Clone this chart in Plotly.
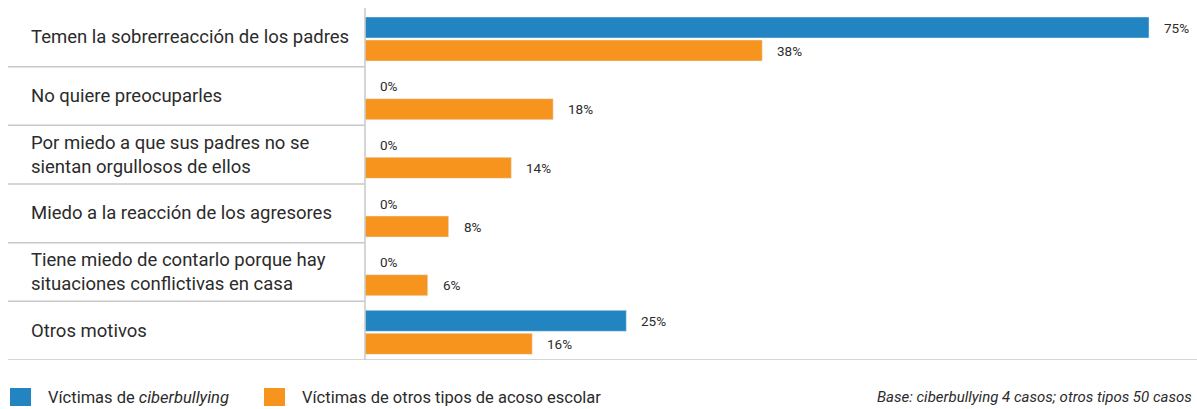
import plotly.graph_objects as go

categories = [
    "Temen la sobrerreacción de los padres",
    "No quiere preocuparles",
    "Por miedo a que sus padres no se<br>sientan orgullosos de ellos",
    "Miedo a la reacción de los agresores",
    "Tiene miedo de contarlo porque hay<br>situaciones conflictivas en casa",
    "Otros motivos",
]
ciber = [75, 0, 0, 0, 0, 25]
otros = [38, 18, 14, 8, 6, 16]
series_names = ["Víctimas de <i>ciberbullying</i>", "Víctimas de otros tipos de acoso escolar"]
base_note = "<i>Base: ciberbullying 4 casos; otros tipos 50 casos</i>"

BLUE = "#2384C2"
ORANGE = "#F6941E"
GRID = "#C8C8C8"
TEXT = "#2B2B2B"
FONT = "Roboto"

W, H = 1197, 409
L, R, T, B = 365, 0, 8, 49
pw = W - L - R
ph = H - T - B
px_per_unit = 784 / 75.0
xmax = pw / px_per_unit
band = ph / len(categories)

ys = list(range(len(categories)))

BAR_W = 21 / band
OFF_BLUE = -0.5 + 9 / band
OFF_ORANGE = -0.5 + 32 / band

fig = go.Figure()
fig.add_trace(go.Bar(y=ys, x=ciber, orientation="h", marker_color=BLUE, name="ciber",
                     width=BAR_W, offset=OFF_BLUE, showlegend=False, hoverinfo="skip"))
fig.add_trace(go.Bar(y=ys, x=otros, orientation="h", marker_color=ORANGE, name="otros",
                     width=BAR_W, offset=OFF_ORANGE, showlegend=False, hoverinfo="skip"))

annotations = []
shapes = []
for i, (a, b) in enumerate(zip(ciber, otros)):
    for val, off in ((a, OFF_BLUE + BAR_W / 2), (b, OFF_ORANGE + BAR_W / 2)):
        annotations.append(dict(x=val, y=i + off, xref="x", yref="y", text=f"{val}%",
                                showarrow=False, xanchor="left", yanchor="middle", xshift=13,
                                font=dict(family=FONT, size=13.5, color=TEXT)))
    annotations.append(dict(x=(29 - L) / pw, y=i, xref="paper", yref="y", text=categories[i],
                            showarrow=False, xanchor="left", yanchor="middle", align="left",
                            font=dict(family=FONT, size=18.5, color=TEXT)))
for i in range(len(categories)):
    y = i + 0.5
    x1 = 1 if i == len(categories) - 1 else 0
    shapes.append(dict(type="line", xref="paper", yref="y", x0=(8 - L) / pw, x1=x1, y0=y, y1=y,
                       line=dict(color=GRID, width=1.5)))
shapes.append(dict(type="line", xref="paper", yref="paper", x0=0, x1=0, y0=0, y1=1,
                   line=dict(color=GRID, width=1.5)))

def py(yp):
    return (H - B - yp) / ph

def pxp(xp):
    return (xp - L) / pw

for (x0, col, label) in ((10, BLUE, series_names[0]), (264, ORANGE, series_names[1])):
    shapes.append(dict(type="rect", xref="paper", yref="paper", x0=pxp(x0), x1=pxp(x0 + 21),
                       y0=py(406), y1=py(388), fillcolor=col, line=dict(width=0)))
    annotations.append(dict(x=pxp(x0 + 36), y=py(397), xref="paper", yref="paper", text=label,
                            showarrow=False, xanchor="left", yanchor="middle",
                            font=dict(family=FONT, size=16.5, color=TEXT)))
annotations.append(dict(x=pxp(1194), y=py(397), xref="paper", yref="paper", text=base_note,
                        showarrow=False, xanchor="right", yanchor="middle",
                        font=dict(family=FONT, size=15, color=TEXT)))

fig.update_layout(
    width=W, height=H,
    margin=dict(l=L, r=R, t=T, b=B),
    paper_bgcolor="white", plot_bgcolor="white",
    barmode="overlay",
    xaxis=dict(range=[0, xmax], visible=False, fixedrange=True),
    yaxis=dict(range=[len(categories) - 0.5, -0.5], visible=False, fixedrange=True),
    annotations=annotations, shapes=shapes,
)

fig.write_html("out.html", config={"displayModeBar": False},
               post_script="document.body.style.margin='0';document.body.style.overflow='hidden';")
